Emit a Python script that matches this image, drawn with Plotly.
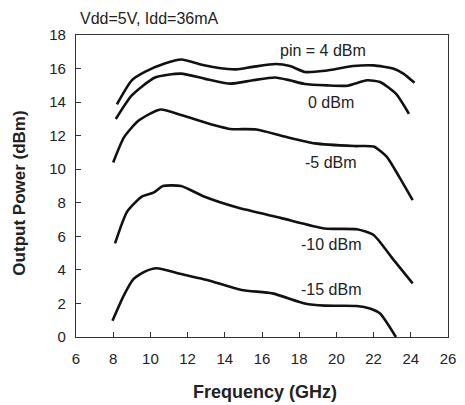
import plotly.graph_objects as go

freq_p4 = [8.2, 9.0, 9.7, 10.77, 11.65, 12.88, 13.6, 14.6, 15.5, 16.74, 17.5, 18.3, 19.4, 20.9, 22.0, 23.05, 23.6, 24.2]
pout_p4 = [13.87, 15.3, 15.8, 16.3, 16.54, 16.2, 16.05, 15.95, 16.1, 16.27, 16.15, 15.8, 15.87, 16.15, 16.19, 16.0, 15.7, 15.15]

freq_0 = [8.14, 9.0, 10.25, 11.65, 12.9, 14.3, 15.5, 16.7, 17.5, 18.3, 19.5, 20.6, 21.65, 22.35, 23.2, 23.9]
pout_0 = [12.99, 14.4, 15.47, 15.7, 15.4, 15.1, 15.3, 15.47, 15.3, 15.08, 15.0, 14.98, 15.3, 15.2, 14.5, 13.3]

freq_m5 = [8.0, 8.58, 9.37, 10.54, 11.65, 13.4, 14.28, 15.7, 17.2, 18.84, 20.95, 22.0, 22.7, 23.4, 24.1]
pout_m5 = [10.4, 11.9, 12.9, 13.56, 13.23, 12.63, 12.4, 12.37, 11.95, 11.54, 11.38, 11.35, 10.75, 9.5, 8.16]

freq_m10 = [8.1, 8.75, 9.54, 10.16, 10.68, 11.65, 12.88, 14.63, 17.0, 19.37, 21.1, 22.0, 23.0, 24.1]
pout_m10 = [5.58, 7.47, 8.37, 8.6, 9.0, 9.0, 8.37, 7.73, 7.1, 6.47, 6.42, 6.08, 4.7, 3.2]

freq_m15 = [7.96, 8.58, 9.1, 9.7, 10.33, 11.65, 13.05, 14.9, 16.56, 18.3, 19.37, 21.1, 21.8, 22.35, 23.1, 23.2]
pout_m15 = [0.97, 2.5, 3.46, 3.9, 4.1, 3.75, 3.4, 2.8, 2.6, 2.0, 1.87, 1.85, 1.7, 1.4, 0.18, 0.0]

series = [
    (freq_p4, pout_p4),
    (freq_0, pout_0),
    (freq_m5, pout_m5),
    (freq_m10, pout_m10),
    (freq_m15, pout_m15),
]

label_text = ["pin = 4 dBm", "0 dBm", "-5 dBm", "-10 dBm", "-15 dBm"]
label_x = [19.3, 19.7, 19.7, 19.7, 19.7]
label_y = [17.1, 14.0, 10.4, 5.5, 2.85]

x_ticks = [6, 8, 10, 12, 14, 16, 18, 20, 22, 24, 26]
y_ticks = [0, 2, 4, 6, 8, 10, 12, 14, 16, 18]

FONT = "Liberation Sans, Arial, Helvetica, sans-serif"
TXT = "#222222"

fig = go.Figure()
for fx, py in series:
    fig.add_trace(go.Scatter(
        x=fx, y=py, mode="lines",
        line=dict(color="#111111", width=2.6, shape="spline", smoothing=0.6),
        showlegend=False, hoverinfo="skip",
    ))

for t, lx, ly in zip(label_text, label_x, label_y):
    fig.add_annotation(x=lx, y=ly, text=t, showarrow=False,
                       font=dict(family=FONT, size=16, color=TXT),
                       xanchor="center", yanchor="middle")

fig.add_annotation(xref="paper", yref="paper", x=0.005, y=1.056,
                   text="Vdd=5V, Idd=36mA", showarrow=False,
                   xanchor="left", yanchor="middle",
                   font=dict(family=FONT, size=16, color=TXT))

fig.add_annotation(xref="paper", yref="paper", x=0.508, y=-0.182,
                   text="<b>Frequency (GHz)</b>", showarrow=False,
                   xanchor="center", yanchor="middle",
                   font=dict(family=FONT, size=18, color=TXT))

fig.add_annotation(xref="paper", yref="paper", x=-0.153, y=0.475,
                   text="<b>Output Power (dBm)</b>", showarrow=False,
                   textangle=-90, xanchor="center", yanchor="middle",
                   font=dict(family=FONT, size=17, color=TXT))

fig.update_layout(
    width=465, height=405,
    margin=dict(l=76, r=9, t=35, b=68),
    paper_bgcolor="white", plot_bgcolor="white",
    font=dict(family=FONT, size=15, color=TXT),
)
fig.update_xaxes(
    range=[6, 26], tickvals=x_ticks, ticktext=[str(v) for v in x_ticks],
    showgrid=False, zeroline=False, showline=True, linecolor="#333333", linewidth=1.2,
    mirror=True, ticks="inside", ticklen=5, tickcolor="#333333",
    ticklabelstandoff=8,
    tickfont=dict(family=FONT, size=15, color=TXT),
)
fig.update_yaxes(
    range=[0, 18], tickvals=y_ticks, ticktext=[str(v) for v in y_ticks],
    showgrid=False, zeroline=False, showline=True, linecolor="#333333", linewidth=1.2,
    mirror=True, ticks="inside", ticklen=5, tickcolor="#333333",
    ticklabelstandoff=6,
    tickfont=dict(family=FONT, size=15, color=TXT),
)

fig.write_html("out.html", config={"displayModeBar": False},
               post_script="document.body.style.margin='0';")
